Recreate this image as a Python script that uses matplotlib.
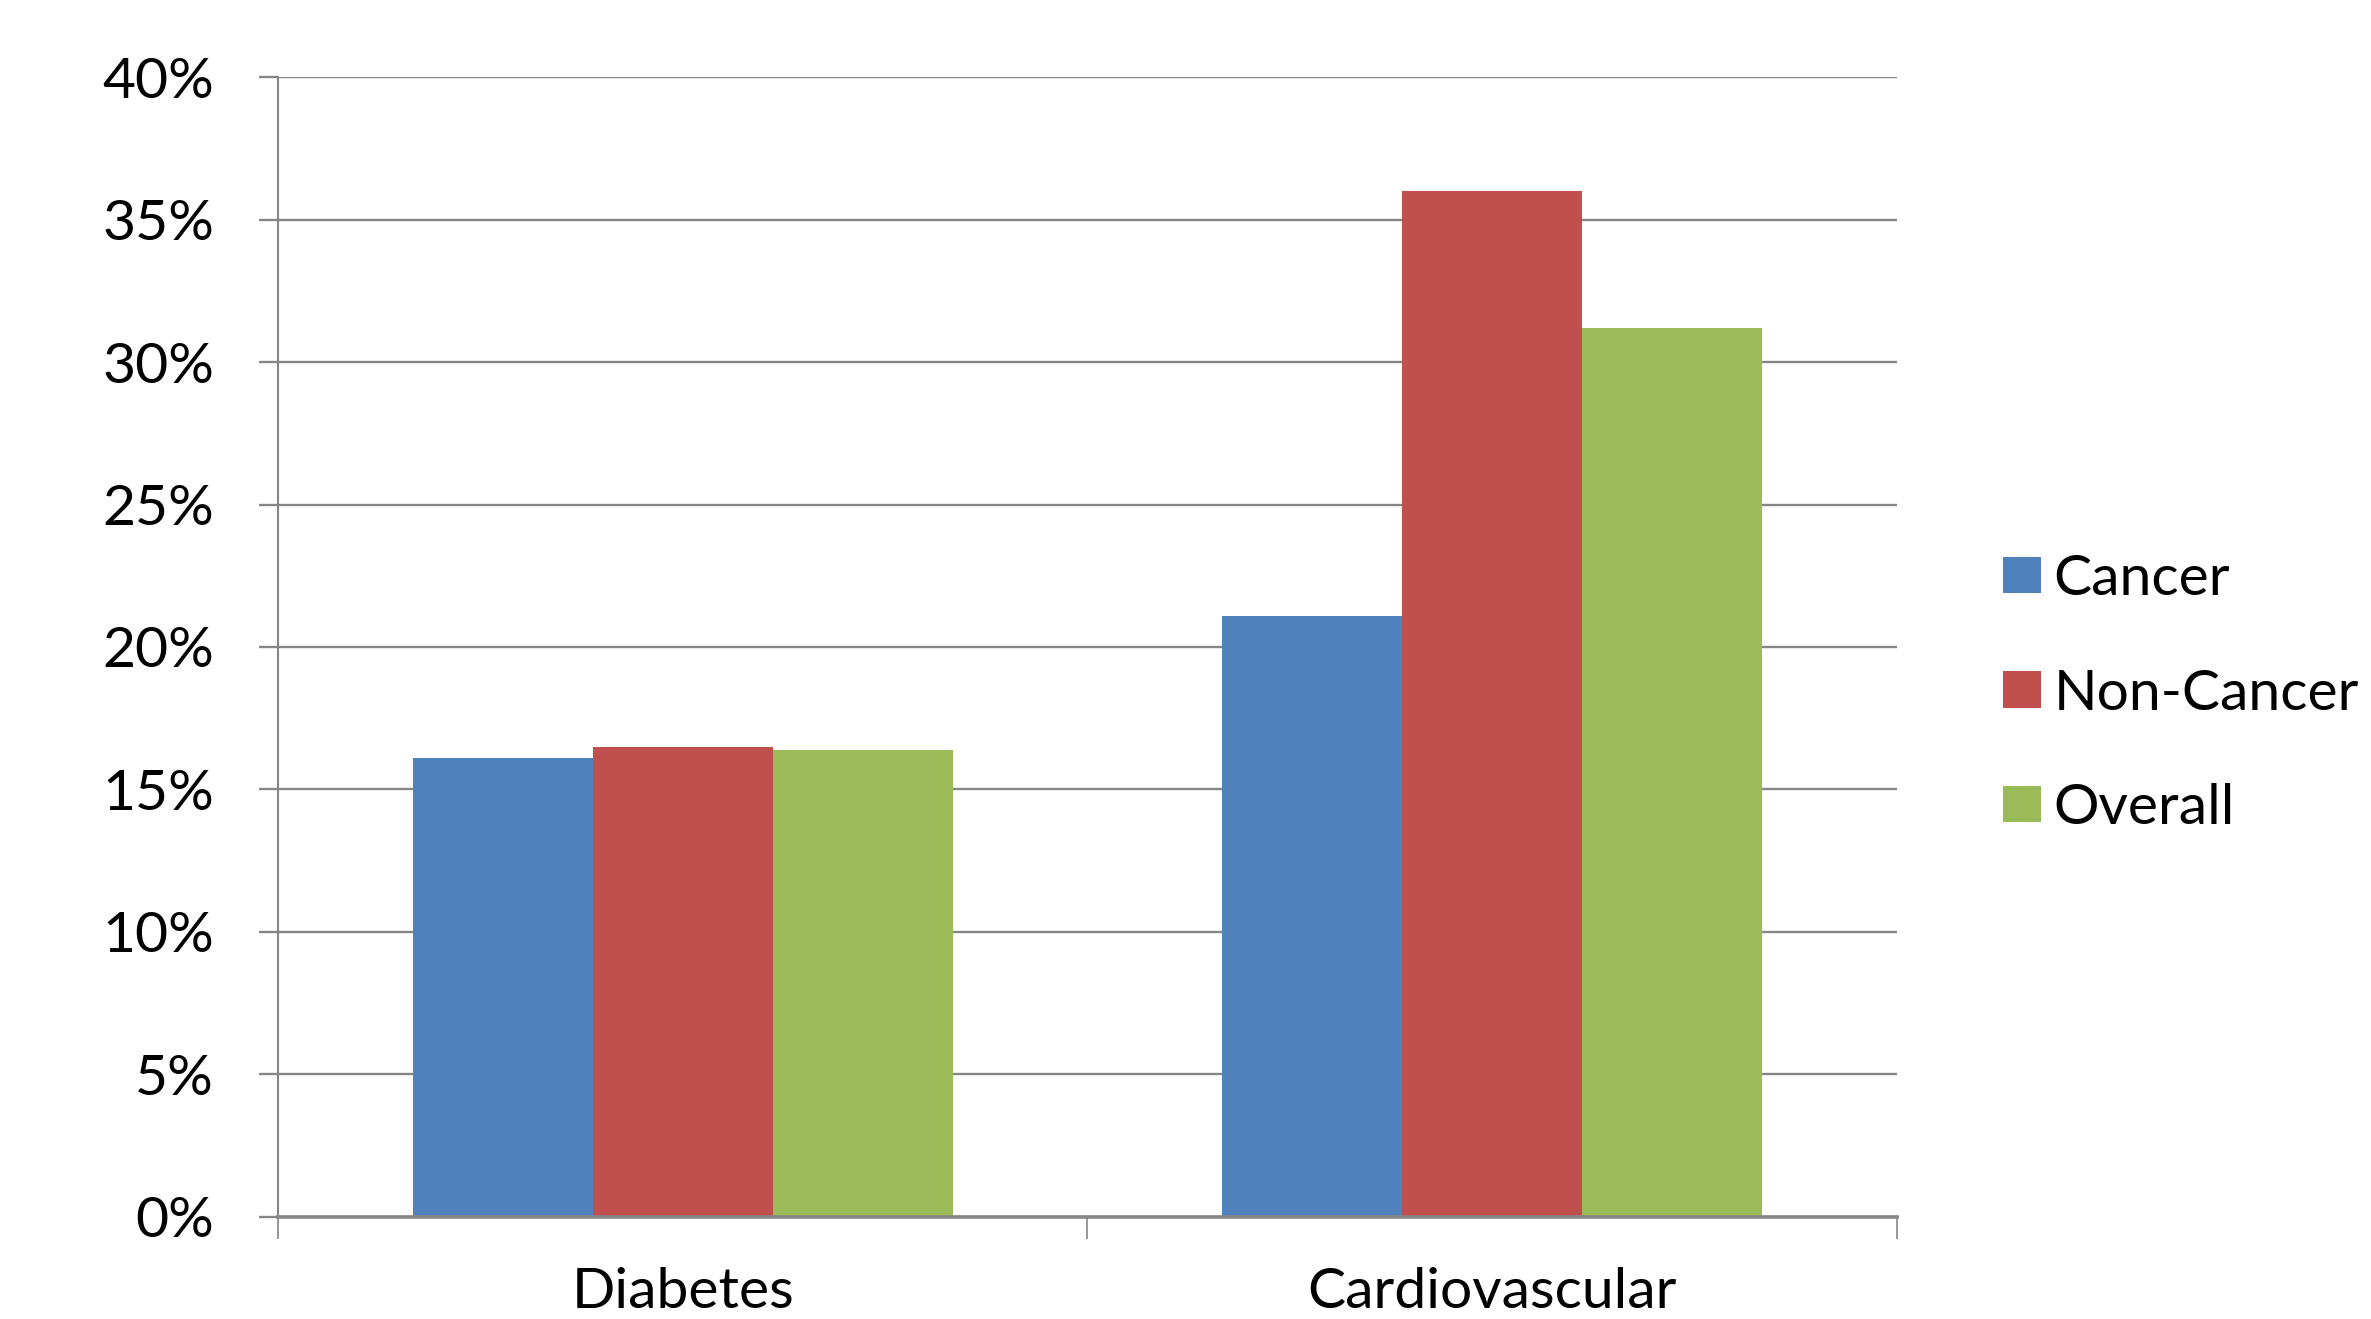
import matplotlib
matplotlib.use("Agg")
import matplotlib.pyplot as plt
import numpy as np
from matplotlib.ticker import MultipleLocator, FuncFormatter

# share of patients with each comorbidity, by group (%)
categories = ["Diabetes", "Cardiovascular"]
series_names = ["Cancer", "Non-Cancer", "Overall"]
cancer = [16.1, 21.1]
non_cancer = [16.5, 36.0]
overall = [16.4, 31.2]

COLORS = ["#4F81BD", "#C0504D", "#9BBB59"]
GRID = "#868686"

plt.rcParams["font.family"] = ["Lato", "DejaVu Sans"]

fig = plt.figure(figsize=(23.71, 13.19), dpi=100, facecolor="white")
ax = fig.add_axes([0.1172, 0.0776, 0.8829 - 0.1172 - 0.0828, 0.9414 - 0.0776])

x = np.arange(len(categories))
width = 1 / 4.5  # three bars plus a 150% gap per category
for i, (name, values) in enumerate(zip(series_names, [cancer, non_cancer, overall])):
    ax.bar(x + (i - 1) * width, values, width=width, color=COLORS[i],
           label=name, zorder=3)

ax.set_xlim(-0.5, len(categories) - 0.5)
ax.set_ylim(0, 40)
ax.yaxis.set_major_locator(MultipleLocator(5))
ax.yaxis.set_major_formatter(FuncFormatter(lambda v, _: f"{v:.0f}%"))
ax.grid(axis="y", color=GRID, linewidth=1.7, zorder=0)

# category boundaries get the tick marks, centres get the labels
ax.set_xticks(np.arange(-0.5, len(categories), 1.0))
ax.set_xticklabels([])
ax.set_xticks(x, minor=True)
ax.set_xticklabels(categories, minor=True)
ax.tick_params(axis="x", which="major", length=16, width=1.2, color=GRID, direction="out")
ax.tick_params(axis="x", which="minor", length=0, pad=36, labelsize=41)
ax.tick_params(axis="y", length=14, width=1.7, color=GRID, direction="out",
               pad=32, labelsize=41)

for side in ["top", "right"]:
    ax.spines[side].set_visible(False)
ax.spines["left"].set_color(GRID)
ax.spines["left"].set_linewidth(1.5)
ax.spines["bottom"].set_color(GRID)
ax.spines["bottom"].set_linewidth(2.6)
ax.spines["bottom"].set_zorder(4)

fig.legend(loc="center left", bbox_to_anchor=(2003 / 2371, 1 - 694 / 1319),
           frameon=False, fontsize=41, handlelength=0.67, handleheight=0.6,
           handletextpad=0.22, labelspacing=1.12, borderpad=0, borderaxespad=0)

fig.savefig("out.png", dpi=100, facecolor="white")
